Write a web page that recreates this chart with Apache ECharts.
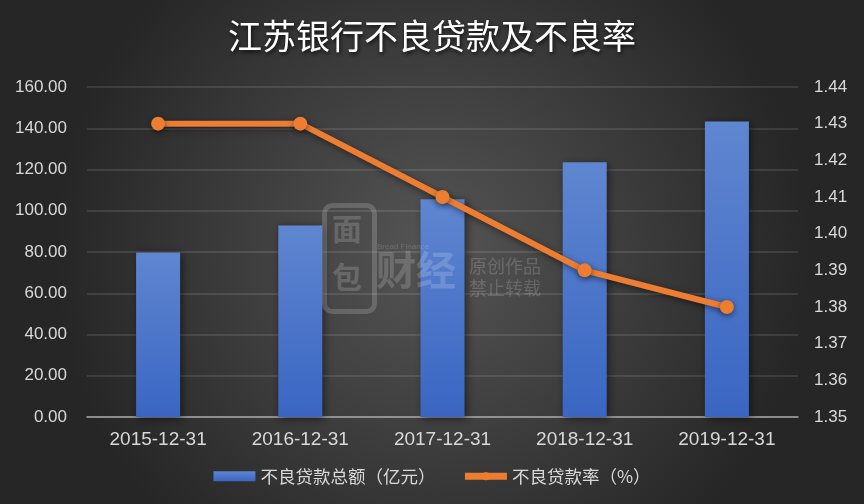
<!DOCTYPE html>
<html>
<head>
<meta charset="utf-8">
<script src="https://cdn.jsdelivr.net/npm/echarts@6/dist/echarts.min.js"></script>
<style>html,body{margin:0;padding:0;background:#333;}#c{width:864px;height:504px;}</style>
</head>
<body>
<div id="c"></div>
<script>
const categories = ['2015-12-31', '2016-12-31', '2017-12-31', '2018-12-31', '2019-12-31'];
const nplAmount = [79.8, 92.9, 105.6, 123.5, 143.3];
const nplRatio = [1.43, 1.43, 1.41, 1.39, 1.38];
const titleText = '江苏银行不良贷款及不良率';
const seriesNames = ['不良贷款总额（亿元）', '不良贷款率（%）'];

const chart = echarts.init(document.getElementById('c'));
const font = '"Liberation Sans", "Noto Sans CJK SC", sans-serif';
const cjk = '"Noto Sans CJK SC", "Liberation Sans", sans-serif';
const wm = 'rgba(255,255,255,0.17)';
chart.setOption({
  backgroundColor: {
    type: 'radial', x: 0.5, y: 0.5, r: 0.75,
    colorStops: [{offset: 0, color: '#555555'}, {offset: 1, color: '#262626'}]
  },
  title: {
    text: titleText, left: 'center', top: 14,
    textStyle: {color: '#ffffff', fontSize: 34, fontWeight: 'normal', fontFamily: cjk,
      textShadowColor: 'rgba(0,0,0,0.8)', textShadowBlur: 4, textShadowOffsetX: 1, textShadowOffsetY: 2}
  },
  grid: {left: 87, right: 66, top: 87, bottom: 87, containLabel: false},
  legend: {
    bottom: 14, left: 'center', itemWidth: 42, itemHeight: 10, itemGap: 26,
    textStyle: {color: '#d9d9d9', fontSize: 17.5, fontFamily: cjk},
    data: [
      {name: seriesNames[0], icon: 'rect'},
      {name: seriesNames[1], lineStyle: {width: 7}, itemStyle: {color: '#ed7d31'}}
    ]
  },
  graphic: [
    {type: 'rect', left: 322, top: 203, z: 100, shape: {width: 50, height: 106, r: 8},
      style: {fill: 'none', stroke: wm, lineWidth: 5}},
    {type: 'text', left: 332, top: 214, z: 100, style: {text: '面', fill: wm, font: 'bold 30px "Noto Sans CJK SC"'}},
    {type: 'text', left: 332, top: 262, z: 100, style: {text: '包', fill: wm, font: 'bold 30px "Noto Sans CJK SC"'}},
    {type: 'text', left: 377, top: 243, z: 100, style: {text: 'Bread Finance', fill: wm, font: '8px "Liberation Sans"'}},
    {type: 'text', left: 376, top: 250, z: 100, style: {text: '财经', fill: wm, font: 'bold 40px "Noto Sans CJK SC"'}},
    {type: 'text', left: 469, top: 257, z: 100, style: {text: '原创作品', fill: wm, font: '18px "Noto Sans CJK SC"'}},
    {type: 'text', left: 469, top: 279, z: 100, style: {text: '禁止转载', fill: wm, font: '18px "Noto Sans CJK SC"'}}
  ],
  xAxis: {
    type: 'category', data: categories,
    axisLine: {lineStyle: {color: '#a6a6a6', width: 1.5}},
    axisTick: {show: false},
    axisLabel: {color: '#d9d9d9', fontSize: 19, fontFamily: font, margin: 13}
  },
  yAxis: [
    {type: 'value', min: 0, max: 160, interval: 20,
      axisLine: {show: false}, axisTick: {show: false},
      axisLabel: {color: '#d9d9d9', fontSize: 17, fontFamily: font, margin: 20, formatter: v => v.toFixed(2)},
      splitLine: {lineStyle: {color: 'rgba(255,255,255,0.14)', width: 1.5}}},
    {type: 'value', min: 1.35, max: 1.44, interval: 0.01,
      axisLine: {show: false}, axisTick: {show: false},
      axisLabel: {color: '#d9d9d9', fontSize: 17, fontFamily: font, margin: 16, formatter: v => v.toFixed(2)},
      splitLine: {show: false}}
  ],
  series: [
    {name: seriesNames[0], type: 'bar', data: nplAmount, barWidth: 44, yAxisIndex: 0,
      itemStyle: {
        color: {type: 'linear', x: 0, y: 0, x2: 0, y2: 1,
          colorStops: [{offset: 0, color: '#5f86d0'}, {offset: 1, color: '#3a66c3'}]},
        shadowColor: 'rgba(0,0,0,0.5)', shadowBlur: 8, shadowOffsetX: 2, shadowOffsetY: 2
      }},
    {name: seriesNames[1], type: 'line', data: nplRatio, yAxisIndex: 1,
      symbol: 'circle', symbolSize: 14,
      lineStyle: {color: '#ed7d31', width: 6, shadowColor: 'rgba(0,0,0,0.5)', shadowBlur: 6, shadowOffsetX: 1, shadowOffsetY: 2},
      itemStyle: {color: '#ed7d31', shadowColor: 'rgba(0,0,0,0.5)', shadowBlur: 6, shadowOffsetY: 2}}
  ]
});
</script>
</body>
</html>
